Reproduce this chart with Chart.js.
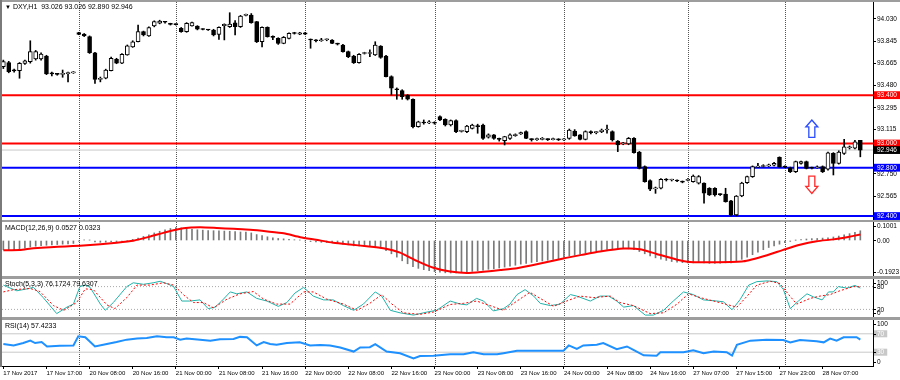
<!DOCTYPE html>
<html>
<head>
<meta charset="utf-8">
<script src="https://cdn.jsdelivr.net/npm/chart.js@4.4.0/dist/chart.umd.min.js"></script>
<style>
  html, body { margin: 0; padding: 0; background: #fff; }
  #wrap { position: relative; width: 900px; height: 380px; background: #9d9d9d; overflow: hidden; }
  #wrap canvas { position: absolute; left: 0; background: #fff; }
  .cap { position: absolute; left: 5px; font: 7px "Liberation Sans Narrow", "Liberation Sans", Arial, sans-serif; color: #000; white-space: pre; line-height: 8px; }
  #edge { position: absolute; left: 0; top: 0; width: 2px; height: 367px; background: #7a7a7a; }
</style>
</head>
<body>
<div id="wrap">
  <canvas id="cMain" width="900" height="218" style="top:2px"></canvas>
  <canvas id="cMacd" width="900" height="54" style="top:222px"></canvas>
  <canvas id="cStoch" width="900" height="38" style="top:279px"></canvas>
  <canvas id="cRsi" width="900" height="60" style="top:320px"></canvas>
  <div id="edge"></div>
  <div class="cap" style="top:3px"><span style="font-size:6px">▼</span> DXY,H1  93.026 93.026 92.890 92.946</div>
  <div class="cap" style="top:224px">MACD(12,26,9) 0.0527 0.0323</div>
  <div class="cap" style="top:280px">Stoch(5,3,3) 76.1724 79.6307</div>
  <div class="cap" style="top:322px">RSI(14) 57.4233</div>
</div>
<script>
// DXY H1 candles, one value per bar (160 bars)
const open = [
  93.636, 93.669, 93.610, 93.603, 93.663, 93.677, 93.700, 93.700, 93.724, 93.585,
  93.575, 93.572, 93.578, 93.585, 93.917, 93.905, 93.884, 93.751, 93.530, 93.540,
  93.603, 93.697, 93.664, 93.732, 93.800, 93.842, 93.925, 93.890, 93.972, 93.995,
  94.005, 93.995, 93.986, 93.953, 93.925, 93.972, 93.972, 93.945, 93.943, 93.939,
  93.903, 93.975, 93.966, 93.999, 93.966, 94.060, 94.063, 94.008, 93.842, 93.961,
  93.884, 93.870, 93.829, 93.870, 93.912, 93.905, 93.915, 93.860, 93.856, 93.850,
  93.858, 93.856, 93.829, 93.815, 93.760, 93.724, 93.669, 93.745, 93.745, 93.732,
  93.807, 93.724, 93.553, 93.450, 93.437, 93.401, 93.366, 93.139, 93.172, 93.170,
  93.175, 93.222, 93.200, 93.153, 93.190, 93.100, 93.098, 93.126, 93.148, 93.153,
  93.052, 93.071, 93.040, 93.023, 93.043, 93.066, 93.080, 93.098, 93.035, 93.032,
  93.035, 93.035, 93.032, 93.035, 93.030, 93.043, 93.103, 93.071, 93.035, 93.095,
  93.090, 93.098, 93.112, 93.098, 93.020, 92.998, 92.996, 93.043, 92.930, 92.809,
  92.693, 92.625, 92.630, 92.700, 92.698, 92.698, 92.690, 92.695, 92.685, 92.672,
  92.672, 92.630, 92.630, 92.580, 92.582, 92.527, 92.409, 92.566, 92.676, 92.726,
  92.805, 92.810, 92.815, 92.820, 92.886, 92.809, 92.800, 92.767, 92.836, 92.850,
  92.800, 92.800, 92.809, 92.787, 92.918, 92.836, 92.918, 92.965, 92.961, 93.026
];
const high = [
  93.690, 93.680, 93.615, 93.670, 93.690, 93.850, 93.770, 93.750, 93.730, 93.590,
  93.580, 93.608, 93.590, 93.595, 93.920, 93.910, 93.890, 93.755, 93.550, 93.615,
  93.715, 93.705, 93.745, 93.815, 93.850, 93.980, 93.930, 93.965, 94.015, 94.020,
  94.010, 93.995, 93.990, 93.960, 94.000, 94.005, 93.975, 93.950, 93.945, 93.945,
  93.965, 93.990, 94.082, 94.016, 94.060, 94.070, 94.075, 94.010, 93.965, 93.965,
  93.890, 93.875, 93.885, 93.915, 93.920, 93.920, 93.920, 93.865, 93.860, 93.870,
  93.865, 93.860, 93.830, 93.820, 93.765, 93.730, 93.745, 93.755, 93.774, 93.842,
  93.810, 93.730, 93.560, 93.460, 93.445, 93.405, 93.370, 93.185, 93.195, 93.190,
  93.180, 93.230, 93.205, 93.195, 93.195, 93.110, 93.150, 93.160, 93.160, 93.160,
  93.080, 93.075, 93.045, 93.060, 93.080, 93.080, 93.095, 93.105, 93.040, 93.045,
  93.050, 93.040, 93.045, 93.040, 93.040, 93.120, 93.115, 93.075, 93.105, 93.105,
  93.100, 93.120, 93.153, 93.105, 93.025, 93.010, 93.050, 93.050, 92.935, 92.815,
  92.700, 92.640, 92.710, 92.710, 92.705, 92.700, 92.690, 92.710, 92.740, 92.735,
  92.675, 92.635, 92.635, 92.585, 92.630, 92.530, 92.570, 92.680, 92.730, 92.815,
  92.836, 92.825, 92.830, 92.845, 92.890, 92.815, 92.805, 92.855, 92.855, 92.855,
  92.805, 92.815, 92.815, 92.930, 92.925, 92.940, 93.035, 92.980, 93.026, 93.026
];
const low = [
  93.620, 93.585, 93.590, 93.540, 93.655, 93.665, 93.690, 93.690, 93.570, 93.560,
  93.565, 93.548, 93.510, 93.580, 93.900, 93.885, 93.745, 93.498, 93.510, 93.535,
  93.600, 93.660, 93.660, 93.730, 93.795, 93.840, 93.890, 93.885, 93.965, 93.990,
  93.995, 93.980, 93.980, 93.920, 93.920, 93.970, 93.940, 93.940, 93.935, 93.890,
  93.862, 93.857, 93.960, 93.898, 93.960, 94.055, 93.995, 93.835, 93.800, 93.880,
  93.860, 93.820, 93.825, 93.865, 93.905, 93.900, 93.900, 93.788, 93.840, 93.845,
  93.850, 93.825, 93.815, 93.755, 93.710, 93.662, 93.665, 93.740, 93.718, 93.728,
  93.705, 93.550, 93.401, 93.366, 93.366, 93.360, 93.130, 93.135, 93.160, 93.165,
  93.160, 93.190, 93.145, 93.145, 93.090, 93.095, 93.090, 93.120, 93.085, 93.035,
  93.045, 93.035, 93.020, 92.988, 93.035, 93.060, 93.075, 93.040, 93.020, 93.025,
  93.030, 93.025, 93.030, 93.025, 93.025, 93.035, 93.060, 93.030, 93.030, 93.080,
  93.080, 93.090, 93.085, 93.020, 92.933, 92.990, 92.990, 92.920, 92.790, 92.680,
  92.610, 92.588, 92.625, 92.690, 92.690, 92.685, 92.675, 92.690, 92.680, 92.665,
  92.507, 92.570, 92.565, 92.570, 92.515, 92.402, 92.402, 92.560, 92.670, 92.720,
  92.800, 92.805, 92.810, 92.815, 92.800, 92.800, 92.760, 92.760, 92.830, 92.790,
  92.790, 92.795, 92.760, 92.780, 92.740, 92.830, 92.910, 92.955, 92.955, 92.890
];
const close = [
  93.677, 93.594, 93.600, 93.663, 93.683, 93.760, 93.760, 93.740, 93.575, 93.575,
  93.572, 93.578, 93.585, 93.590, 93.903, 93.890, 93.751, 93.531, 93.540, 93.608,
  93.705, 93.664, 93.738, 93.809, 93.842, 93.925, 93.898, 93.960, 94.008, 94.013,
  94.003, 93.985, 93.984, 93.925, 93.995, 94.000, 93.945, 93.943, 93.939, 93.898,
  93.961, 93.985, 93.989, 93.966, 94.055, 94.065, 93.999, 93.842, 93.961, 93.884,
  93.878, 93.829, 93.878, 93.912, 93.910, 93.915, 93.905, 93.856, 93.850, 93.858,
  93.862, 93.829, 93.822, 93.760, 93.718, 93.669, 93.738, 93.748, 93.750, 93.815,
  93.713, 93.553, 93.457, 93.445, 93.388, 93.366, 93.139, 93.180, 93.170, 93.180,
  93.168, 93.195, 93.153, 93.190, 93.098, 93.105, 93.145, 93.153, 93.140, 93.043,
  93.071, 93.043, 93.035, 93.057, 93.071, 93.075, 93.090, 93.043, 93.032, 93.035,
  93.038, 93.032, 93.035, 93.030, 93.033, 93.112, 93.063, 93.035, 93.098, 93.090,
  93.092, 93.112, 93.115, 93.029, 92.988, 93.000, 93.043, 92.924, 92.795, 92.685,
  92.622, 92.630, 92.704, 92.698, 92.700, 92.690, 92.680, 92.700, 92.731, 92.726,
  92.590, 92.574, 92.574, 92.578, 92.519, 92.409, 92.566, 92.672, 92.726, 92.809,
  92.809, 92.815, 92.820, 92.836, 92.809, 92.805, 92.767, 92.850, 92.850, 92.795,
  92.797, 92.805, 92.767, 92.924, 92.836, 92.930, 92.972, 92.968, 93.015, 92.946
];

// price axis and drawn levels
const priceTicks = [94.030, 93.845, 93.665, 93.480, 93.295, 93.115, 92.750, 92.565];
const redLevels = [93.400, 93.000];
const blueLevels = [92.800, 92.400];
const bidPrice = 92.946;
// [bar, tip price, tail price]
const arrowMarks = [[150, 93.195, 93.051], [150, 92.587, 92.731]];

// MACD(12,26,9): histogram per bar, signal line sampled [bar, value]
const macdHist = [
  -0.050, -0.051, -0.050, -0.047, -0.042, -0.035, -0.031, -0.028, -0.026, -0.024,
  -0.022, -0.020, -0.018, -0.016, -0.004, 0.003, 0.002, -0.008, -0.010, -0.009,
  -0.007, -0.006, -0.004, 0.000, 0.006, 0.013, 0.022, 0.031, 0.041, 0.050,
  0.058, 0.065, 0.070, 0.068, 0.064, 0.061, 0.058, 0.056, 0.054, 0.053,
  0.052, 0.051, 0.050, 0.048, 0.046, 0.045, 0.041, 0.032, 0.027, 0.020,
  0.015, 0.011, 0.009, 0.006, 0.004, 0.002, -0.003, -0.006, -0.008, -0.010,
  -0.011, -0.013, -0.016, -0.020, -0.024, -0.029, -0.030, -0.031, -0.032, -0.033,
  -0.040, -0.055, -0.072, -0.090, -0.110, -0.126, -0.142, -0.151, -0.158, -0.164,
  -0.169, -0.172, -0.175, -0.176, -0.176, -0.174, -0.170, -0.167, -0.164, -0.161,
  -0.156, -0.153, -0.149, -0.144, -0.139, -0.134, -0.128, -0.124, -0.119, -0.115,
  -0.111, -0.107, -0.103, -0.099, -0.092, -0.084, -0.080, -0.074, -0.069, -0.064,
  -0.058, -0.054, -0.048, -0.047, -0.045, -0.044, -0.045, -0.050, -0.060, -0.072,
  -0.084, -0.094, -0.101, -0.108, -0.114, -0.118, -0.120, -0.122, -0.121, -0.120,
  -0.122, -0.124, -0.124, -0.123, -0.121, -0.121, -0.112, -0.102, -0.090, -0.077,
  -0.063, -0.050, -0.038, -0.029, -0.020, -0.012, -0.005, 0.001, 0.005, 0.008,
  0.010, 0.011, 0.013, 0.015, 0.019, 0.024, 0.030, 0.037, 0.044, 0.0527
];
const macdSignal = [
  [0, -0.053], [3, -0.052], [5.6, -0.042], [8.7, -0.037], [11.5, -0.032], [14.2, -0.028],
  [18, -0.020], [21, -0.012], [24.1, -0.001], [27.2, 0.021], [30.3, 0.046], [33.4, 0.066],
  [36.5, 0.072], [39.6, 0.068], [42.7, 0.063], [45.8, 0.058], [49, 0.049], [52, 0.039],
  [55.1, 0.018], [58, 0.004], [61.2, -0.012], [64.3, -0.022], [67.4, -0.031], [70.5, -0.042],
  [73.6, -0.066], [76.7, -0.110], [79.8, -0.148], [82.9, -0.168], [86, -0.176], [89.1, -0.169],
  [92.2, -0.160], [95.3, -0.150], [99.6, -0.125], [103.9, -0.097], [107.3, -0.078], [110.7, -0.060],
  [115.1, -0.044], [118.1, -0.047], [121.2, -0.073], [125, -0.104], [127.4, -0.116], [132.4, -0.118],
  [137.3, -0.113], [141.7, -0.080], [144.7, -0.051], [147.8, -0.023], [150.9, -0.004], [154, 0.006],
  [156.5, 0.018], [159, 0.0323]
];

// Stochastic(5,3,3) %K and %D, sampled [bar, value]
const stochK = [
  [0, 84], [0.6, 80], [2.5, 69], [4.4, 74], [5.6, 78], [7.4, 51], [9.9, 9], [11.8, 26], [13, 34],
  [14.2, 80], [15.2, 84], [16.1, 78], [18, 34], [18.9, 17.6], [20.4, 38], [22.9, 80], [24.1, 90],
  [26, 86], [27.8, 90], [29.1, 94], [30.3, 88], [31.6, 80], [33.1, 42], [34.6, 42], [36.5, 45],
  [38, 22], [39.3, 26], [40.5, 42], [42.1, 66], [43.3, 61], [45.2, 66], [47, 49], [48.9, 42],
  [51, 28], [52.6, 38], [54.1, 63], [55.7, 78], [57.5, 55], [59.4, 45], [61.2, 45], [63.1, 30],
  [65, 17.6], [66.8, 34], [69, 66], [70.2, 55], [71.8, 17.6], [73.6, 11], [76.1, 5], [78.6, 13],
  [80.4, 17.6], [82.9, 42], [84.8, 34], [86, 32], [87.8, 49], [89.1, 42], [90.9, 16], [92.8, 22],
  [94, 34], [95.3, 59], [96.8, 72], [98.4, 55], [99.6, 36], [101.5, 30], [103.3, 34], [105.2, 59],
  [106.4, 55], [108.9, 42], [110.7, 55], [112.3, 55], [113.8, 42], [115.1, 26], [116.9, 30],
  [119.1, 5], [120.6, 5], [122.5, 17.6], [124.3, 42], [126.2, 66], [128, 59], [129.9, 45],
  [132.4, 42], [133.6, 40], [135.2, 19], [136.7, 46], [138.3, 84], [139.8, 93], [141.7, 95],
  [143.5, 93], [144.7, 73], [146, 22], [147.5, 42], [149.1, 61], [150.3, 53], [151.9, 45],
  [153.1, 66], [154, 66], [154.9, 80], [156.5, 76], [158, 83], [159, 76.17]
];
const stochD = [
  [0, 66], [1.9, 72], [5, 75], [6.8, 67], [9.3, 30], [11.2, 17.6], [13.6, 38], [15.2, 74],
  [16.7, 72], [19.2, 32], [20.7, 22], [22.9, 51], [24.8, 84], [27.2, 84], [29.7, 90], [31.6, 84],
  [33.7, 55], [35.3, 38], [37.1, 38], [39, 24], [41.5, 47], [43.9, 61], [46.4, 67], [48.3, 47],
  [50.7, 34], [53.2, 34], [55.7, 66], [57.5, 66], [60, 47], [63.1, 34], [65.6, 17.6], [68, 36],
  [70.2, 59], [72.1, 34], [74.2, 11], [77.3, 7], [79.8, 13], [82.9, 33], [85.4, 36], [87.8, 42],
  [90.3, 30], [92.8, 17.6], [95.3, 42], [97.7, 65], [99.6, 49], [102.1, 28], [104.5, 42],
  [107, 55], [109.5, 51], [112.6, 55], [114.4, 38], [116.9, 30], [120, 9], [122.5, 11], [125, 34],
  [127.1, 61], [129.3, 51], [131.8, 42], [134.2, 33], [136.1, 26], [138, 55], [139.8, 84],
  [142.3, 94], [144.1, 88], [145.7, 59], [147.2, 34], [149.7, 49], [151.5, 55], [153.4, 59],
  [155.2, 69], [157.7, 80], [159, 79.63]
];

// RSI(14), sampled [bar, value]
const rsi = [
  [0, 47.7], [1.9, 44.7], [3.7, 49.9], [5, 55.1], [5.9, 49.9], [7.1, 52.1], [8.1, 42.5],
  [10.5, 44], [13, 44.7], [13.9, 64.7], [15.2, 62.5], [17, 42.5], [19.2, 47.7], [21, 52.1],
  [22.9, 57.3], [24.8, 59.6], [26.6, 61], [28.5, 64.7], [30.3, 62.5], [31.6, 62.5], [32.8, 57.3],
  [34, 59.6], [36.5, 57.3], [38.4, 55.1], [40.2, 58.1], [42.7, 58.8], [43.9, 63.3], [45.2, 62.5],
  [47, 44.7], [48.3, 52.1], [49.5, 47.7], [50.7, 46.2], [52.6, 49.9], [55, 51.4], [56.9, 44.7],
  [58.8, 45.5], [60.6, 44.7], [62.5, 40.3], [65, 31.4], [66.2, 40.3], [68, 41], [69, 47.7],
  [71.1, 31.4], [73.6, 27.7], [76.1, 16.6], [77.3, 21.8], [79.8, 22.5], [82.9, 25.5], [85.4, 25.5],
  [87.2, 29.9], [89.1, 25.5], [91.6, 25.5], [92.8, 27.7], [95.3, 32.9], [103.9, 32.9],
  [104.9, 44.7], [106.4, 37.3], [107.6, 44.7], [110.1, 46.2], [111.3, 49.9], [113.8, 36.6],
  [115.7, 42.5], [116.9, 35.1], [118.8, 23.1], [121.2, 22.5], [121.9, 29.9], [126.2, 29.9],
  [128, 34.4], [129.9, 27.7], [131.8, 31.4], [134.2, 29.9], [135.2, 22.5], [136.1, 46.2],
  [138.6, 55.1], [141.6, 57.3], [144.7, 56.6], [146, 51.4], [147.8, 56.6], [150.9, 53.6],
  [152.2, 51.4], [153.4, 59.6], [154.6, 55.1], [155.9, 62.5], [158.3, 62.5], [159, 57.42]
];

const macdTicks = [0.1001, 0, -0.1923];
const stochTicks = [100, 80, 20, 0];
const stochLevels = [80, 20];
const rsiTicks = [100, 70, 30, 0];
const rsiLevels = [70, 30];

// time axis: one label every 8 bars, dotted separators at each new day
const timeLabels = [
  '17 Nov 2017', '17 Nov 17:00', '20 Nov 08:00', '20 Nov 16:00', '21 Nov 00:00',
  '21 Nov 08:00', '21 Nov 16:00', '22 Nov 00:00', '22 Nov 08:00', '22 Nov 16:00',
  '23 Nov 00:00', '23 Nov 08:00', '23 Nov 16:00', '24 Nov 00:00', '24 Nov 08:00',
  '24 Nov 16:00', '27 Nov 07:00', '27 Nov 15:00', '27 Nov 23:00', '28 Nov 07:00'
];
const labelStep = 8;
const daySeparators = [14, 32, 56, 80, 104, 127, 145];

const X_MIN = -0.25, X_MAX = 161.35;
const AXIS_W = 27;
const FAMILY = '"Liberation Sans Narrow", "Liberation Sans", Arial, sans-serif';

Chart.defaults.font.family = FAMILY;
Chart.defaults.font.size = 6.5;
Chart.defaults.color = '#000';
Chart.defaults.animation = false;
Chart.defaults.responsive = false;
Chart.defaults.events = [];
Chart.defaults.plugins.legend.display = false;
Chart.defaults.plugins.tooltip.enabled = false;

const pts = arr => arr.map(p => ({ x: p[0], y: p[1] }));
const hline = v => [{ x: X_MIN, y: v }, { x: X_MAX, y: v }];

const dayLines = {
  id: 'dayLines',
  beforeDatasetsDraw(chart) {
    const { ctx, chartArea: a, scales: { x } } = chart;
    ctx.save();
    ctx.strokeStyle = '#555';
    ctx.lineWidth = 1;
    ctx.setLineDash([1, 1]);
    daySeparators.forEach(b => {
      const px = Math.round(x.getPixelForValue(b)) + 0.5;
      ctx.beginPath();
      ctx.moveTo(px, a.top);
      ctx.lineTo(px, a.bottom);
      ctx.stroke();
    });
    ctx.restore();
  }
};

// right-hand labels of the indicator windows, kept inside the window like MT4 does
const sideLabels = {
  id: 'sideLabels',
  afterDraw(chart, args, opts) {
    if (!opts.items) return;
    const { ctx, chartArea: a, scales: { y } } = chart;
    ctx.save();
    ctx.font = '6.5px ' + FAMILY;
    ctx.textBaseline = 'middle';
    opts.items.forEach(it => {
      let py = y.getPixelForValue(it.value);
      py = Math.min(Math.max(py, a.top + 4), a.bottom - 4);
      const w = ctx.measureText(it.text).width;
      if (it.box) {
        ctx.fillStyle = '#c8c8c8';
        ctx.fillRect(a.right + 1, py - 3.5, w + 6, 7);
        ctx.fillStyle = '#fff';
      } else {
        ctx.fillStyle = '#000';
      }
      ctx.fillText(it.text, a.right + 4, py + 0.5);
      ctx.fillStyle = '#000';
      ctx.fillRect(a.right, Math.round(py), 3, 1);
    });
    ctx.restore();
  }
};

const arrowPlugin = {
  id: 'arrowPlugin',
  afterDatasetsDraw(chart) {
    const { ctx, scales: { x, y } } = chart;
    ctx.save();
    ctx.lineWidth = 1.3;
    arrowMarks.forEach(([bar, tip, tail]) => {
      const cx = x.getPixelForValue(bar);
      const ty = y.getPixelForValue(tip), by = y.getPixelForValue(tail);
      const dir = by > ty ? 1 : -1;
      const head = 7 * dir;
      ctx.beginPath();
      ctx.moveTo(cx, ty);
      ctx.lineTo(cx + 6, ty + head);
      ctx.lineTo(cx + 3, ty + head);
      ctx.lineTo(cx + 3, by);
      ctx.lineTo(cx - 3, by);
      ctx.lineTo(cx - 3, ty + head);
      ctx.lineTo(cx - 6, ty + head);
      ctx.closePath();
      ctx.fillStyle = '#fff';
      ctx.fill();
      ctx.strokeStyle = dir > 0 ? '#2b4dff' : '#ff2b2b';
      ctx.stroke();
    });
    ctx.restore();
  }
};

function xAxis(show) {
  return {
    type: 'linear', min: X_MIN, max: X_MAX, offset: false, display: show,
    afterBuildTicks: s => { s.ticks = timeLabels.map((t, i) => ({ value: i * labelStep })); },
    afterFit: s => { s.height = show ? 14 : 0; s.paddingLeft = 0; s.paddingRight = 0; },
    grid: { drawOnChartArea: false, drawTicks: true, tickLength: 3, color: '#000' },
    border: { display: true, color: '#000' },
    ticks: { autoSkip: false, maxRotation: 0, align: 'start', padding: 1, font: { size: 6 }, callback: (v, i) => timeLabels[i] }
  };
}

function sideAxis(min, max) {
  return {
    position: 'right', min, max, beginAtZero: false,
    afterFit: s => { s.width = AXIS_W; s.paddingTop = 0; s.paddingBottom = 0; },
    grid: { drawOnChartArea: false, drawTicks: false },
    border: { display: true, color: '#000' },
    ticks: { display: false }
  };
}

// ---- main price window ----
const idx = open.map((_, i) => i);
const levelColor = v => redLevels.includes(v) ? '#ff0000' : blueLevels.includes(v) ? '#0000ff' : v === bidPrice ? '#000000' : null;

new Chart(document.getElementById('cMain'), {
  type: 'bar',
  data: {
    datasets: [
      {
        data: idx.map(i => ({ x: i, y: [Math.min(open[i], close[i]), Math.max(open[i], close[i])] })),
        backgroundColor: idx.map(i => close[i] >= open[i] ? '#ffffff' : '#000000'),
        borderColor: '#000', borderWidth: 1, borderSkipped: false,
        barThickness: 4, minBarLength: 1, grouped: false, order: 1
      },
      {
        data: idx.map(i => ({ x: i, y: [low[i], high[i]] })),
        backgroundColor: '#000', borderWidth: 0,
        barThickness: 1, minBarLength: 1, grouped: false, order: 2
      },
      ...redLevels.map(v => ({ type: 'line', data: hline(v), borderColor: '#ff0000', borderWidth: 2, pointRadius: 0, order: 3 })),
      ...blueLevels.map(v => ({ type: 'line', data: hline(v), borderColor: '#0000ff', borderWidth: 2, pointRadius: 0, order: 3 })),
      { type: 'line', data: hline(bidPrice), borderColor: '#c8c8c8', borderWidth: 1, pointRadius: 0, order: 4 }
    ]
  },
  options: {
    layout: { padding: { left: 2 } },
    scales: {
      x: xAxis(false),
      y: {
        position: 'right', min: 92.3675, max: 94.1706, beginAtZero: false,
        afterBuildTicks: s => { s.ticks = [...priceTicks, ...redLevels, bidPrice, ...blueLevels].map(v => ({ value: v })); },
        afterFit: s => { s.width = AXIS_W; s.paddingTop = 0; s.paddingBottom = 0; },
        grid: { drawOnChartArea: false, tickLength: 3, color: '#000' },
        border: { display: true, color: '#000' },
        ticks: {
          autoSkip: false, padding: 1,
          callback: v => v.toFixed(3),
          color: c => levelColor(c.tick.value) ? '#fff' : '#000',
          showLabelBackdrop: c => !!levelColor(c.tick.value),
          backdropColor: c => levelColor(c.tick.value) || 'rgba(0,0,0,0)',
          backdropPadding: { top: 0, bottom: 0, left: 3, right: 4 }
        }
      }
    }
  },
  plugins: [dayLines, arrowPlugin]
});

// ---- MACD window ----
new Chart(document.getElementById('cMacd'), {
  type: 'bar',
  data: {
    datasets: [
      {
        data: idx.map(i => ({ x: i, y: macdHist[i] })),
        backgroundColor: '#7a7a7a', barThickness: 1, grouped: false, order: 2
      },
      { type: 'line', data: pts(macdSignal), borderColor: '#ff0000', borderWidth: 2, pointRadius: 0, tension: 0.2, order: 1 }
    ]
  },
  options: {
    layout: { padding: { left: 2 } },
    scales: { x: xAxis(false), y: sideAxis(-0.1923, 0.1001) },
    plugins: { sideLabels: { items: macdTicks.map(v => ({ value: v, text: v === 0 ? '0.00' : v.toFixed(4) })) } }
  },
  plugins: [dayLines, sideLabels]
});

// ---- Stochastic window ----
new Chart(document.getElementById('cStoch'), {
  type: 'line',
  data: {
    datasets: [
      ...stochLevels.map(v => ({ data: hline(v), borderColor: '#a8a8a8', borderWidth: 1, borderDash: [1, 2], pointRadius: 0, order: 3 })),
      { data: pts(stochK), borderColor: '#20b2aa', borderWidth: 1, pointRadius: 0, order: 2 },
      { data: pts(stochD), borderColor: '#ff0000', borderWidth: 1, borderDash: [2, 2], pointRadius: 0, order: 1 }
    ]
  },
  options: {
    layout: { padding: { left: 2 } },
    scales: { x: xAxis(false), y: sideAxis(0, 100) },
    plugins: { sideLabels: { items: stochTicks.map(v => ({ value: v, text: String(v) })) } }
  },
  plugins: [dayLines, sideLabels]
});

// ---- RSI window with the time axis ----
new Chart(document.getElementById('cRsi'), {
  type: 'line',
  data: {
    datasets: [
      ...rsiLevels.map(v => ({ data: hline(v), borderColor: '#c8c8c8', borderWidth: 1, pointRadius: 0, order: 2 })),
      { data: pts(rsi), borderColor: '#1e90ff', borderWidth: 2, pointRadius: 0, order: 1 }
    ]
  },
  options: {
    layout: { padding: { left: 2 } },
    scales: { x: xAxis(true), y: sideAxis(0, 100) },
    plugins: { sideLabels: { items: rsiTicks.map(v => ({ value: v, text: String(v), box: rsiLevels.includes(v) })) } }
  },
  plugins: [dayLines, sideLabels]
});
</script>
</body>
</html>
